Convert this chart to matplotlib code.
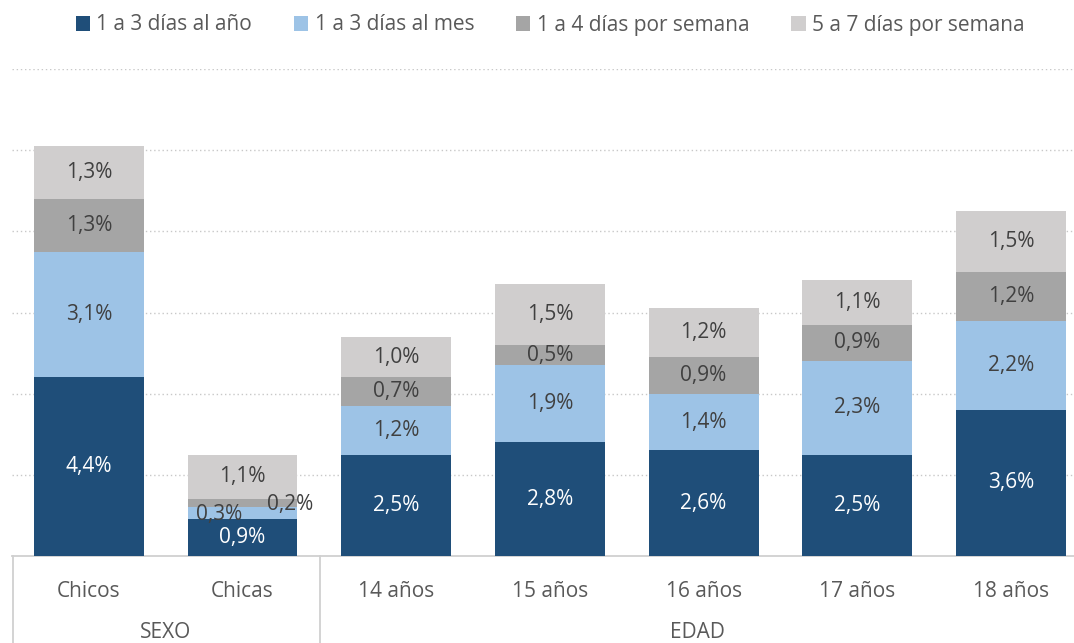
import matplotlib
matplotlib.use("Agg")
import matplotlib.pyplot as plt
from matplotlib.lines import Line2D
from matplotlib.patches import Patch
import numpy as np

categories = ["Chicos", "Chicas", "14 años", "15 años", "16 años", "17 años", "18 años"]
groups = ["SEXO", "EDAD"]
series_names = ["1 a 3 días al año", "1 a 3 días al mes", "1 a 4 días por semana", "5 a 7 días por semana"]
anio = [4.4, 0.9, 2.5, 2.8, 2.6, 2.5, 3.6]
mes = [3.1, 0.3, 1.2, 1.9, 1.4, 2.3, 2.2]
semana14 = [1.3, 0.2, 0.7, 0.5, 0.9, 0.9, 1.2]
semana57 = [1.3, 1.1, 1.0, 1.5, 1.2, 1.1, 1.5]

colors = ["#1F4E79", "#9DC3E6", "#A5A5A5", "#D0CECE"]
text_colors = ["white", "#404040", "#404040", "#404040"]

plt.rcParams['font.family'] = ['Open Sans', 'DejaVu Sans']

W, H = 1074, 643
fig = plt.figure(figsize=(W / 100, H / 100), dpi=100)
ax = fig.add_axes([12 / W, (H - 556) / H, 1 - 12 / W, (556 - 69) / H])

x = np.arange(len(categories))
data = [anio, mes, semana14, semana57]
bottom = np.zeros(len(categories))
for si, vals in enumerate(data):
    vals = np.array(vals)
    ax.bar(x, vals, bottom=bottom, width=0.715, color=colors[si], zorder=3)
    for i, v in enumerate(vals):
        cx = x[i]
        cy = bottom[i] + v / 2
        label = f"{v:.1f}".replace(".", ",") + "%"
        if categories[i] == "Chicas" and si == 1:
            cx -= 0.15
            cy -= 0.02
        elif categories[i] == "Chicas" and si == 2:
            cx += 0.31
            cy -= 0.03
        ax.text(cx, cy, label, ha="center", va="center", fontsize=15,
                color=text_colors[si], zorder=5)
    bottom += vals

ax.set_ylim(0, 12)
ax.set_xlim(-0.5, 6.41)
ax.set_yticks([2, 4, 6, 8, 10, 12])
ax.yaxis.grid(True, linestyle=(0, (1, 2)), color="#C8C8C8", linewidth=1, zorder=0)
ax.tick_params(axis="y", length=0, labelleft=False)
ax.tick_params(axis="x", length=0, pad=18, labelsize=15, labelcolor="#595959")
ax.set_xticks(x)
ax.set_xticklabels(categories)
for s in ["top", "right", "left"]:
    ax.spines[s].set_visible(False)
ax.spines["bottom"].set_color("#D0D0D0")
ax.spines["bottom"].set_linewidth(1.3)

# separators in figure pixels
for px in [13, 320]:
    fig.add_artist(Line2D([px / W, px / W], [0, (H - 556) / H], color="#D0D0D0", linewidth=1.3))

# group labels
fig.text(166 / W, (H - 633) / H, groups[0], ha="center", va="center", fontsize=15, color="#595959")
fig.text(697 / W, (H - 633) / H, groups[1], ha="center", va="center", fontsize=15, color="#595959")

handles = [Patch(facecolor=c, edgecolor="none") for c in colors]
fig.legend(handles, series_names, loc="center", bbox_to_anchor=(550 / W, (H - 25) / H),
           ncol=4, frameon=False, fontsize=15, handlelength=0.7, handleheight=0.7,
           handletextpad=0.3, columnspacing=2.0, labelcolor="#595959")

fig.savefig("out.png", dpi=100)
